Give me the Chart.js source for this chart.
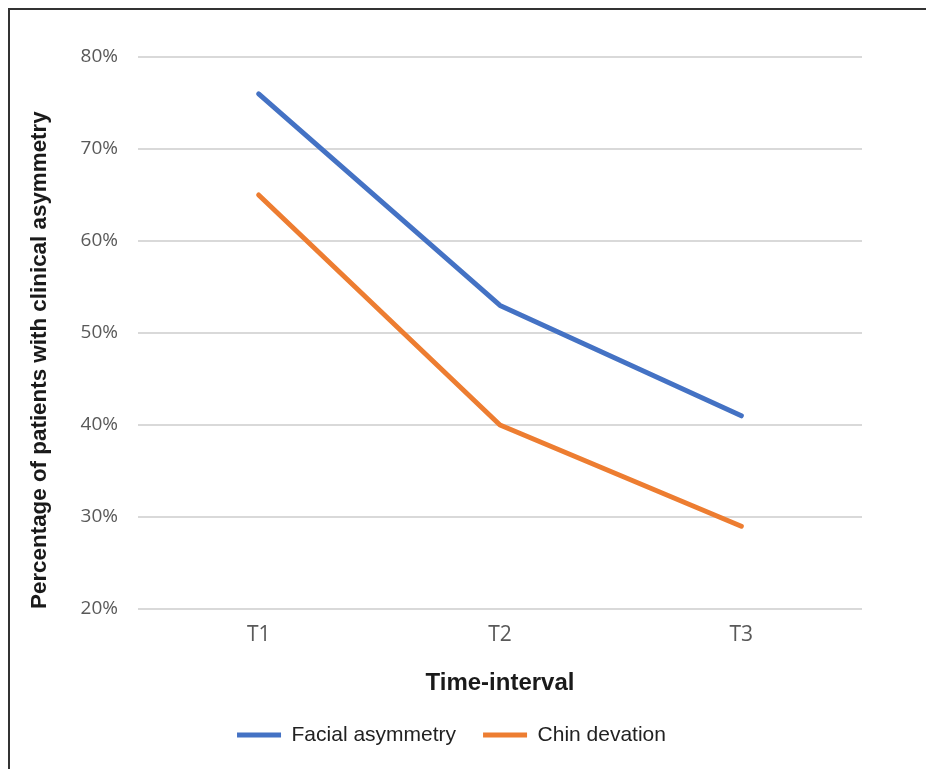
<!DOCTYPE html>
<html>
<head>
<meta charset="utf-8">
<script src="https://cdn.jsdelivr.net/npm/chart.js@4"></script>
<style>
  html, body { margin: 0; padding: 0; background: #fff; }
  #wrap { position: relative; width: 926px; height: 769px; overflow: hidden; }
  #frame {
    position: absolute; left: 8px; top: 8px; width: 940px; height: 800px;
    border-top: 2px solid #333; border-left: 2px solid #333;
  }
  #chart { position: absolute; left: 0; top: 0; }
</style>
</head>
<body>
<div id="wrap">
  <div id="frame"></div>
  <canvas id="chart" width="926" height="769"></canvas>
</div>
<script>
const intervals = ['T1', 'T2', 'T3'];
const facialAsymmetry = [76, 53, 41];
const chinDeviation = [65, 40, 29];

const SERIES_COLORS = {
  'Facial asymmetry': '#4472C4',
  'Chin devation': '#ED7D31'
};

function lineSeries(label, data) {
  return {
    label,
    data,
    borderColor: SERIES_COLORS[label],
    backgroundColor: SERIES_COLORS[label],
    borderWidth: 5,
    borderCapStyle: 'round',
    borderJoinStyle: 'round',
    pointRadius: 0,
    tension: 0
  };
}

const sans = '"Liberation Sans", Arial, sans-serif';

new Chart(document.getElementById('chart'), {
  type: 'line',
  data: {
    labels: intervals,
    datasets: [
      lineSeries('Facial asymmetry', facialAsymmetry),
      lineSeries('Chin devation', chinDeviation)
    ]
  },
  options: {
    responsive: false,
    animation: false,
    // left padding chosen so the legend centres where the original does
    layout: { padding: { left: 41, right: 64, top: 57, bottom: 13.5 } },
    scales: {
      x: {
        offset: true,
        grid: { display: false, drawTicks: false },
        border: { display: false },
        ticks: { color: '#595959', font: { family: '"Open Sans", sans-serif', size: 21 }, padding: 13 },
        title: {
          display: true, text: 'Time-interval', color: '#1a1a1a',
          font: { family: sans, size: 24, weight: 'bold' },
          padding: { top: 0, bottom: 0 }
        },
        afterFit: (scale) => { scale.height = 88.5; }
      },
      y: {
        min: 20,
        max: 80,
        ticks: {
          stepSize: 10,
          color: '#595959',
          font: { family: '"Open Sans", sans-serif', size: 19 },
          padding: 20,
          callback: (v) => v + '%'
        },
        grid: { color: '#d9d9d9', lineWidth: 2, drawTicks: false },
        border: { display: false },
        title: {
          display: true, text: 'Percentage of patients with clinical asymmetry',
          color: '#1a1a1a', align: 'start',
          font: { family: sans, size: 22.4, weight: 'bold' },
          padding: { top: -14.5, bottom: 0 }
        },
        afterFit: (scale) => { scale.width = 97; }
      }
    },
    plugins: {
      legend: {
        position: 'bottom',
        labels: {
          color: '#222',
          font: { family: sans, size: 21 },
          boxWidth: 44,
          boxHeight: 5,
          padding: 27,
          generateLabels: (chart) =>
            Chart.defaults.plugins.legend.labels.generateLabels(chart).map(item => ({
              ...item, lineWidth: 0
            }))
        }
      },
      tooltip: { enabled: false }
    }
  }
});
</script>
</body>
</html>
